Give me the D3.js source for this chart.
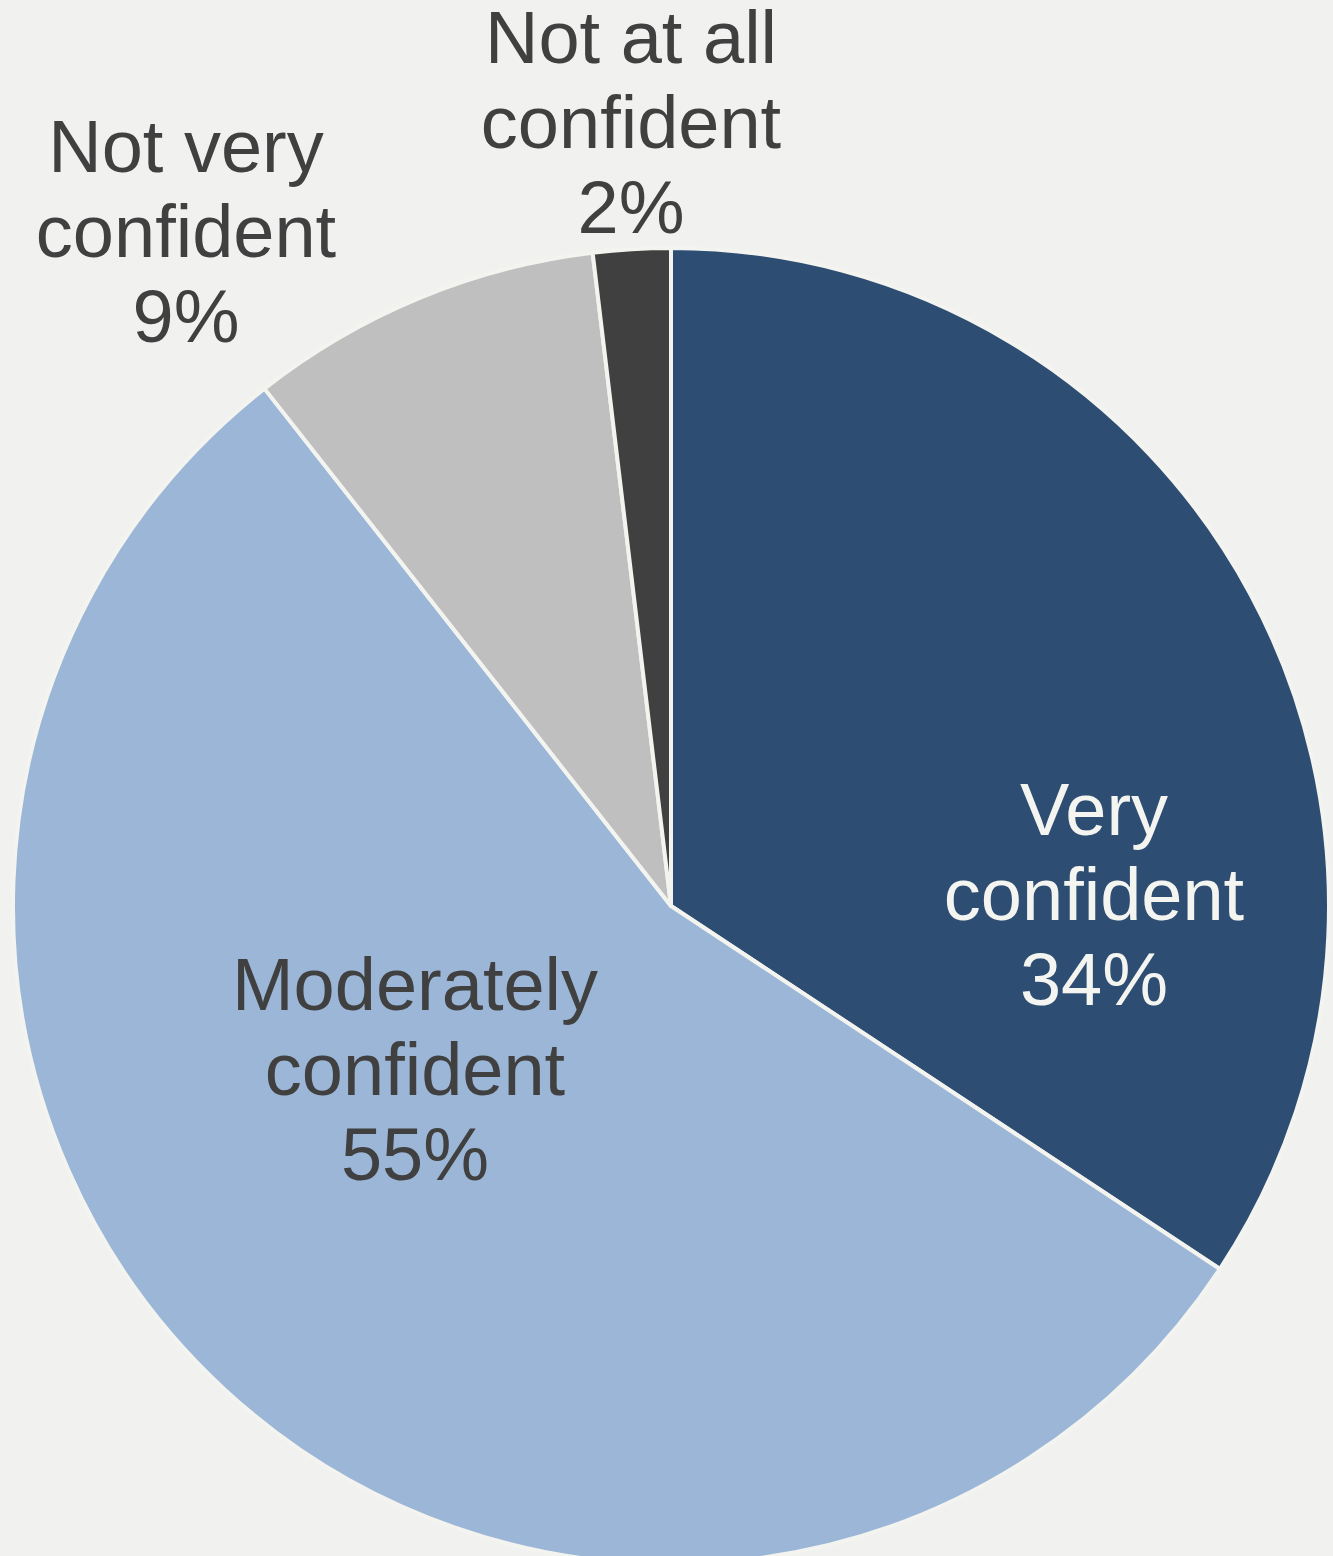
<!DOCTYPE html>
<html>
<head>
<meta charset="utf-8">
<script src="https://cdn.jsdelivr.net/npm/d3@7"></script>
<style>
  html, body { margin: 0; padding: 0; background: #f1f1f0; }
  svg { display: block; }
</style>
</head>
<body>
<div id="chart"></div>
<script>
// ---- data ----
const categories = ["Very confident", "Moderately confident", "Not very confident", "Not at all confident"];
const values = [34.3, 55.1, 8.7, 1.9];
const labelLines = [["Very", "confident"], ["Moderately", "confident"], ["Not very", "confident"], ["Not at all", "confident"]];

// ---- style / layout (not data) ----
const colors = ["#2d4d72", "#9bb6d7", "#bfbfbf", "#404040"];
const textColors = ["#f4f4f0", "#404040", "#404040", "#404040"];
const labelAnchors = [[1094, 835], [415, 1010], [186, 172], [631, 63]]; // first-line baseline
const W = 1333, H = 1556;
const cx = 671, cy = 906, R = 658;
const fontSize = 74, lineGap = 85;

const svg = d3.select("#chart").append("svg").attr("width", W).attr("height", H);

svg.append("rect").attr("width", W).attr("height", H).attr("fill", "#f1f1f0");

const pie = d3.pie().sort(null).value(d => d)(values);
const arc = d3.arc().innerRadius(0).outerRadius(R);

const g = svg.append("g").attr("transform", `translate(${cx},${cy})`);
g.selectAll("path.slice").data(pie).join("path")
  .attr("class", "slice")
  .attr("d", arc)
  .attr("fill", (d, i) => colors[i])
  .attr("stroke", "#f3f3ef")
  .attr("stroke-width", 4)
  .attr("stroke-linejoin", "round");

const fmt = v => Math.round(v) + "%";
const labels = svg.selectAll("text.lbl").data(pie).join("text")
  .attr("class", "lbl")
  .attr("text-anchor", "middle")
  .attr("font-family", "Liberation Sans, Arial, sans-serif")
  .attr("font-size", fontSize)
  .attr("fill", (d, i) => textColors[i]);

labels.each(function(d, i) {
  const t = d3.select(this);
  const [x, y] = labelAnchors[i];
  const lines = labelLines[i].concat([fmt(d.data)]);
  lines.forEach((ln, k) => {
    t.append("tspan").attr("x", x).attr("y", y + k * lineGap).text(ln);
  });
});
</script>
</body>
</html>
